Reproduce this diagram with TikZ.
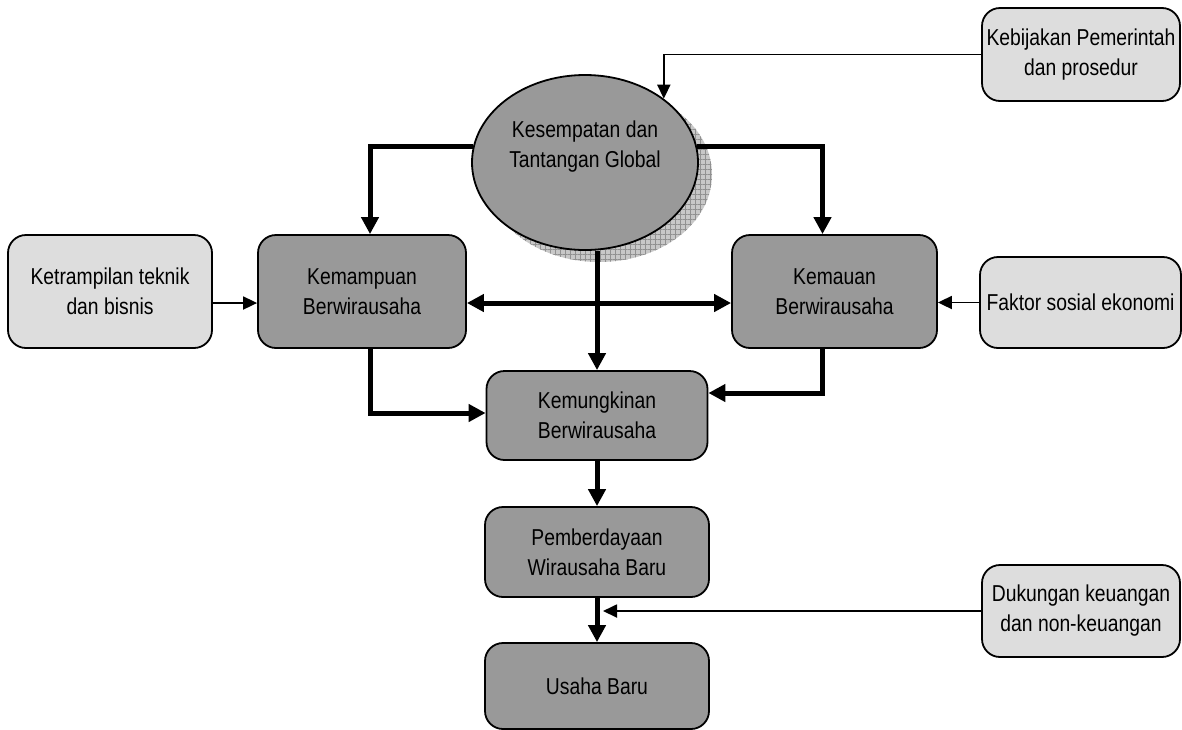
\documentclass[tikz,border=0pt]{standalone}
\usepackage{fontspec}
\setmainfont[FakeStretch=0.84]{Liberation Sans}
\usetikzlibrary{shapes.geometric,arrows.meta,patterns.meta,calc}
\definecolor{boxdark}{RGB}{153,153,153}
\definecolor{boxlight}{RGB}{221,221,221}
\definecolor{shadowbase}{RGB}{200,200,200}
\definecolor{shadowgrid}{RGB}{145,145,145}
\begin{document}
\begin{tikzpicture}[x=1pt,y=-1pt,
  txt/.style={font=\fontsize{23}{30}\selectfont,align=center},
  box/.style={txt,draw=black,line width=1.8pt,rounded corners=18pt,inner sep=0pt},
  dark/.style={box,fill=boxdark},
  light/.style={box,fill=boxlight},
  bigarrow/.style={line width=5pt,-{Triangle[length=17pt,width=17pt]}},
  bigboth/.style={line width=5pt,{Triangle[length=17pt,width=17pt]}-{Triangle[length=17pt,width=17pt]}},
  thinarrow/.style={line width=1.8pt,-{Triangle[length=14pt,width=13pt]}}]
\useasboundingbox (0,0) rectangle (1182,729);

% shadow of ellipse
\node[ellipse,minimum width=226pt,minimum height=175pt,inner sep=0pt,fill=shadowbase,
  postaction={pattern={Lines[angle=0,distance=5pt,line width=0.6pt]},pattern color=shadowgrid},
  postaction={pattern={Lines[angle=90,distance=5pt,line width=0.6pt]},pattern color=shadowgrid}]
  (shd) at (599,174.5) {};

\node[ellipse,draw=black,line width=1.8pt,fill=boxdark,minimum width=226pt,minimum height=175pt,inner sep=0pt] (ell) at (585,162.5) {};
\node[txt] (elltxt) at (585,147) {Kesempatan dan\\Tantangan Global};

\node[light,minimum width=198pt,minimum height=93pt] (keb) at (1081,54.5) {Kebijakan Pemerintah\\dan prosedur};
\node[light,minimum width=204pt,minimum height=113pt] (ket) at (110,291.5) {Ketrampilan teknik\\dan bisnis};
\node[dark,minimum width=208pt,minimum height=113pt] (kem) at (362,291.5) {Kemampuan\\Berwirausaha};
\node[dark,minimum width=205pt,minimum height=113pt] (kma) at (834.5,291.5) {Kemauan\\Berwirausaha};
\node[light,minimum width=201pt,minimum height=91pt] (fak) at (1080.5,302.5) {Faktor sosial ekonomi};
\node[dark,minimum width=221pt,minimum height=89pt] (kmk) at (597,415.5) {Kemungkinan\\Berwirausaha};
\node[dark,minimum width=224pt,minimum height=90pt] (pem) at (597,552) {Pemberdayaan\\Wirausaha Baru};
\node[dark,minimum width=224pt,minimum height=86pt] (usa) at (597,686) {Usaha Baru};
\node[light,minimum width=198pt,minimum height=92pt] (duk) at (1081,611) {Dukungan keuangan\\dan non-keuangan};

\draw[thinarrow] (keb.west) -| (ell.39);
\draw[bigarrow] (ell.172) -| ([xshift=8pt]kem.north);
\draw[bigarrow] (ell.8) -| ([xshift=-12pt]kma.north);
\draw[bigarrow] (ell.south -| kmk.north) -- (kmk.north);
\draw[thinarrow] ([yshift=-11.5pt]ket.east) -- ([yshift=-11.5pt]kem.west);
\draw[bigboth] ([yshift=-11.5pt]kem.east) -- ([yshift=-11.5pt]kma.west);
\draw[thinarrow] (fak.west) -- (fak.west -| kma.east);
\draw[bigarrow] ([xshift=8pt]kem.south) |- ([yshift=2.5pt]kmk.west);
\draw[bigarrow] ([xshift=-12pt]kma.south) |- ([yshift=22.5pt]kmk.east);
\draw[bigarrow] (kmk.south) -- (pem.north);
\draw[bigarrow] (pem.south) -- (usa.north);
\coordinate (dk) at ([xshift=6pt]pem.south |- duk.west);
\draw[thinarrow] (duk.west) -- (dk);
\end{tikzpicture}
\end{document}
